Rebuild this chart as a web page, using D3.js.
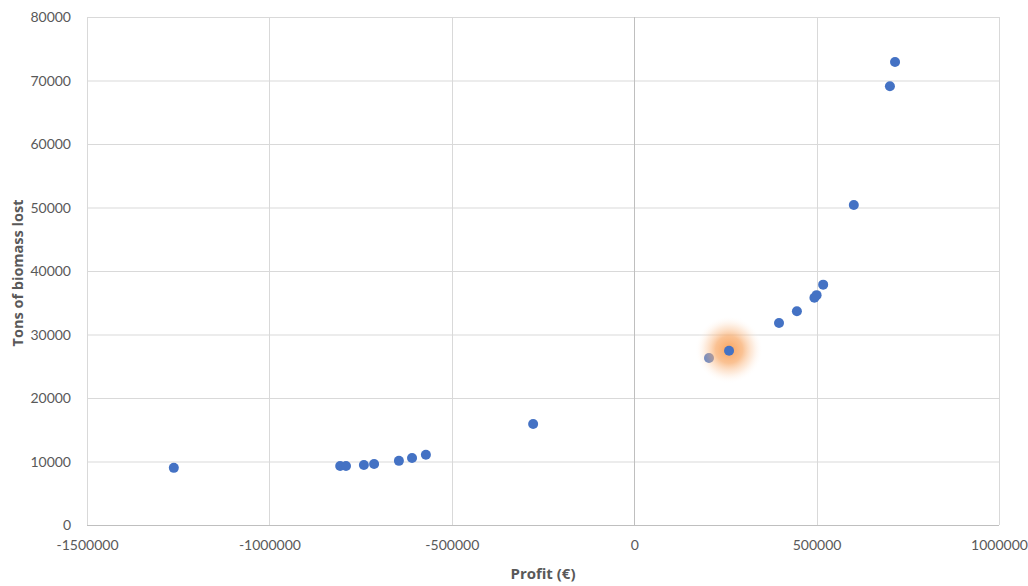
<!DOCTYPE html>
<html><head><meta charset="utf-8">
<script src="https://cdn.jsdelivr.net/npm/d3@7"></script>
<style>body{margin:0;background:#fff;} svg{display:block;}</style>
</head><body>
<svg id="chart" width="1028" height="586"></svg>
<script>
const profit = [-1262000, -806000, -790000, -741000, -713000, -645000, -609000, -571000, -277000, 205000, 260000, 397000, 446000, 494000, 500000, 518000, 602000, 701000, 715000];
const biomass = [9000, 9300, 9300, 9450, 9600, 10100, 10550, 11050, 15900, 26300, 27450, 31800, 33650, 35800, 36200, 37850, 50400, 69100, 72900];
const xTicks = [-1500000, -1000000, -500000, 0, 500000, 1000000];
const yTicks = [0, 10000, 20000, 30000, 40000, 50000, 60000, 70000, 80000];
const highlightIndex = 10;
const xTitle = "Profit (€)";
const yTitle = "Tons of biomass lost";

const svg = d3.select("#chart");
const m = {l: 87, r: 999, t: 17, b: 525};
const x = d3.scaleLinear().domain([-1500000, 1000000]).range([m.l, m.r]);
const y = d3.scaleLinear().domain([0, 80000]).range([m.b, m.t]);
const font = "Lato, 'Open Sans', sans-serif";
const titleFont = "'Open Sans', Lato, sans-serif";
const fmt = d => String(d);

const defs = svg.append("defs");
const rg = defs.append("radialGradient").attr("id", "glow");
rg.append("stop").attr("offset", "0%").attr("stop-color", "#f79a4e").attr("stop-opacity", 0.9);
rg.append("stop").attr("offset", "40%").attr("stop-color", "#f8a866").attr("stop-opacity", 0.7);
rg.append("stop").attr("offset", "70%").attr("stop-color", "#fbc9a0").attr("stop-opacity", 0.35);
rg.append("stop").attr("offset", "100%").attr("stop-color", "#fff").attr("stop-opacity", 0);

// gridlines
svg.append("g").selectAll("line").data(yTicks).join("line")
  .attr("x1", m.l).attr("x2", m.r).attr("y1", d => y(d) + 0.5).attr("y2", d => y(d) + 0.5)
  .attr("stroke", d => d === 0 ? "#bfbfbf" : "#d9d9d9").attr("stroke-width", 1);
svg.append("g").selectAll("line").data(xTicks).join("line")
  .attr("y1", m.t).attr("y2", m.b).attr("x1", d => Math.round(x(d)) + 0.5).attr("x2", d => Math.round(x(d)) + 0.5)
  .attr("stroke", d => d === 0 ? "#bfbfbf" : "#d9d9d9").attr("stroke-width", 1);

// axis tick labels
const yAxis = d3.axisLeft(y).tickValues(yTicks).tickSize(0).tickPadding(0).tickFormat(fmt);
const ga = svg.append("g").attr("transform", `translate(${m.l - 16},0)`).call(yAxis);
ga.select(".domain").remove();
ga.selectAll("text").attr("font-family", font).attr("font-size", 14).attr("fill", "#595959").attr("dy", "0.35em");

const xAxis = d3.axisBottom(x).tickValues(xTicks).tickSize(0).tickPadding(0).tickFormat(fmt);
const gx = svg.append("g").attr("transform", `translate(0,${m.b + 20})`).call(xAxis);
gx.select(".domain").remove();
gx.selectAll("text").attr("font-family", font).attr("font-size", 14).attr("fill", "#595959").attr("dy", "0.35em");

// titles
svg.append("text").attr("x", 543).attr("y", 579).attr("text-anchor", "middle")
  .attr("font-family", titleFont).attr("font-size", 15).attr("font-weight", "bold").attr("fill", "#595959").text(xTitle);
svg.append("text").attr("transform", `translate(23,273) rotate(-90)`).attr("text-anchor", "middle")
  .attr("font-family", titleFont).attr("font-size", 14.5).attr("font-weight", "bold").attr("fill", "#595959").text(yTitle);

// points
const pts = svg.append("g");
profit.forEach((p, i) => {
  if (i === highlightIndex) {
    pts.append("circle").attr("cx", x(p)).attr("cy", y(biomass[i]) - 1).attr("r", 34).attr("fill", "url(#glow)");
  }
  pts.append("circle").attr("cx", x(p)).attr("cy", y(biomass[i])).attr("r", 5).attr("fill", "#4472c4");
});
</script>
</body></html>
